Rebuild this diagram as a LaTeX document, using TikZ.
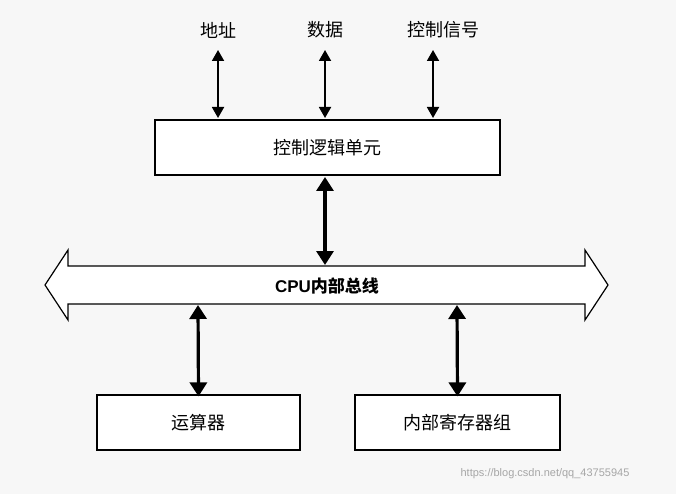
\documentclass[tikz,border=0pt]{standalone}
\usepackage{fontspec}
\setmainfont{Liberation Sans}
\newfontfamily\cjk{Noto Sans CJK SC}
\usetikzlibrary{arrows.meta}
\begin{document}
\begin{tikzpicture}[x=1pt,y=-1pt,
  box/.style={draw,line width=1.2pt,fill=white,font=\cjk\fontsize{18}{18}\selectfont},
  lbl/.style={font=\cjk\fontsize{18}{18}\selectfont},
  thin2/.style={{Triangle[length=11pt,width=12pt]}-{Triangle[length=11pt,width=12pt]},line width=1.8pt},
  thick2/.style={{Triangle[length=14pt,width=17pt]}-{Triangle[length=14pt,width=17pt]},line width=3.2pt}]
\fill[gray!6] (0,0) rectangle (676,494);
\useasboundingbox (0,0) rectangle (676,494);
\node[lbl] (a) at (218,30) {地址};
\node[lbl] (d) at (325,30) {数据};
\node[lbl] (c) at (443,30) {控制信号};
\node[box,minimum width=345pt,minimum height=55pt] (ctl) at (327.5,147.5) {控制逻辑单元};
\coordinate (a1) at (218,118); \coordinate (d1) at (325,118); \coordinate (c1) at (433,118);
\coordinate (a0) at (218,50); \coordinate (d0) at (325,50); \coordinate (c0) at (433,50);
\draw[thin2] (a0) -- (a1);
\draw[thin2] (d0) -- (d1);
\draw[thin2] (c0) -- (c1);
\draw[line width=1.2pt,fill=white] (45,285) -- (68,250) -- (68,266) -- (585,266) -- (585,250) -- (608,285) -- (585,320) -- (585,304) -- (68,304) -- (68,320) -- cycle;
\node[font=\bfseries\fontsize{17}{17}\selectfont] (bus) at (327,286) {CPU{\cjk 内部总线}};
\coordinate (bt) at (325,265); \coordinate (ct) at (325,177);
\coordinate (bl) at (198,305); \coordinate (br) at (457,305);
\draw[thick2] (ct) -- (bt);
\node[box,minimum width=203pt,minimum height=55pt] (alu) at (198.5,422.5) {运算器};
\node[box,minimum width=205pt,minimum height=55pt] (reg) at (457.5,422.5) {内部寄存器组};
\draw[thick2] (bl) -- ([yshift=-2pt]alu.north);
\draw[thick2] (br) -- ([yshift=-2pt]reg.north);
\node[text=gray!70,font=\fontsize{11}{11}\selectfont] (wm) at (545,474) {https://blog.csdn.net/qq\_43755945};
\end{tikzpicture}
\end{document}
